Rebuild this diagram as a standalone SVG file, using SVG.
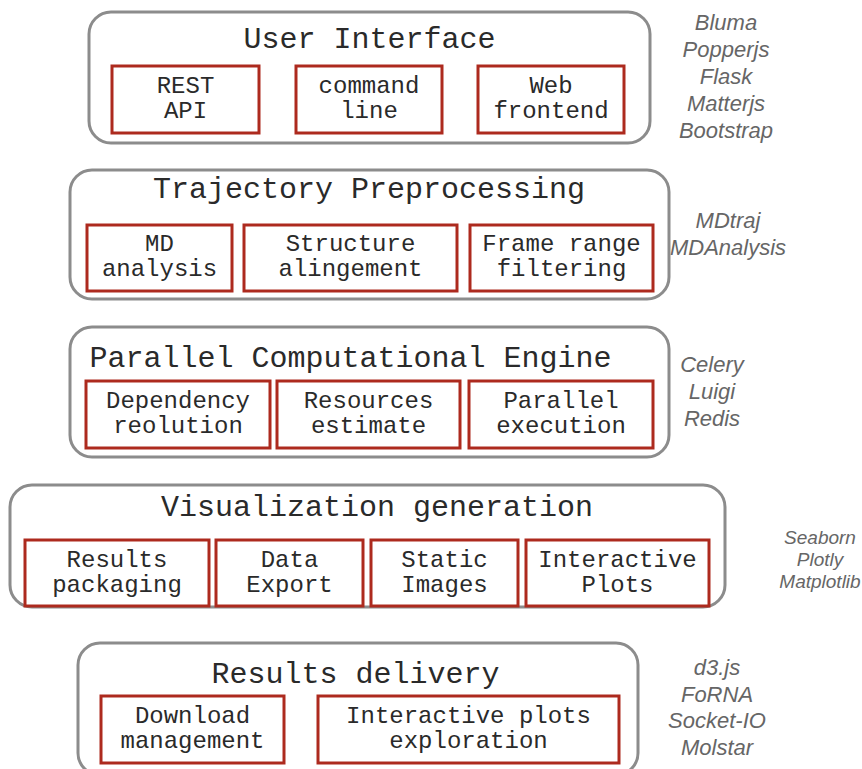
<svg xmlns="http://www.w3.org/2000/svg" width="862" height="769" viewBox="0 0 862 769">
  <style>
    .layer { fill: #ffffff; stroke: #8c8c8c; stroke-width: 3; }
    .comp { fill: #ffffff; stroke: #ad2a1e; stroke-width: 3; }
    .title { font-family: "Liberation Mono", "Courier New", monospace; font-size: 30px; fill: #2a2a2a; text-anchor: middle; }
    .label { font-family: "Liberation Mono", "Courier New", monospace; font-size: 24px; fill: #2a2a2a; text-anchor: middle; }
    .tech { font-family: "Liberation Sans", Arial, sans-serif; font-style: italic; font-size: 22px; fill: #666666; text-anchor: middle; }
    .tech-sm { font-size: 19px; }
  </style>
  <rect width="862" height="769" fill="#ffffff"/>

  <!-- Layer 1: User Interface -->
  <g id="user-interface">
    <rect class="layer" x="89" y="12" width="561" height="131" rx="22"/>
    <text class="title" x="369.5" y="48">User Interface</text>
    <g id="rest-api">
      <rect class="comp" x="112" y="66" width="147" height="67"/>
      <text class="label" x="185.5" y="93">REST</text>
      <text class="label" x="185.5" y="118">API</text>
    </g>
    <g id="command-line">
      <rect class="comp" x="296" y="66" width="146" height="67"/>
      <text class="label" x="369" y="93">command</text>
      <text class="label" x="369" y="118">line</text>
    </g>
    <g id="web-frontend">
      <rect class="comp" x="478" y="66" width="146" height="67"/>
      <text class="label" x="551" y="93">Web</text>
      <text class="label" x="551" y="118">frontend</text>
    </g>
  </g>
  <g id="ui-tech">
    <text class="tech" x="726" y="30">Bluma</text>
    <text class="tech" x="726" y="57">Popperjs</text>
    <text class="tech" x="726" y="84">Flask</text>
    <text class="tech" x="726" y="111">Matterjs</text>
    <text class="tech" x="726" y="138">Bootstrap</text>
  </g>

  <!-- Layer 2: Trajectory Preprocessing -->
  <g id="trajectory-preprocessing">
    <rect class="layer" x="70" y="170" width="599" height="129" rx="22"/>
    <text class="title" x="369" y="198">Trajectory Preprocessing</text>
    <g id="md-analysis">
      <rect class="comp" x="87" y="225" width="145" height="66"/>
      <text class="label" x="159.5" y="251">MD</text>
      <text class="label" x="159.5" y="276">analysis</text>
    </g>
    <g id="structure-alignment">
      <rect class="comp" x="244" y="225" width="213" height="66"/>
      <text class="label" x="350.5" y="251">Structure</text>
      <text class="label" x="350.5" y="276">alingement</text>
    </g>
    <g id="frame-filtering">
      <rect class="comp" x="470" y="225" width="183" height="66"/>
      <text class="label" x="561.5" y="251">Frame range</text>
      <text class="label" x="561.5" y="276">filtering</text>
    </g>
  </g>
  <g id="traj-tech">
    <text class="tech" x="728" y="228">MDtraj</text>
    <text class="tech" x="728" y="255">MDAnalysis</text>
  </g>

  <!-- Layer 3: Parallel Computational Engine -->
  <g id="computational-engine">
    <rect class="layer" x="70" y="327" width="599" height="130" rx="22"/>
    <text class="title" x="350.5" y="367">Parallel Computational Engine</text>
    <g id="dependency-resolution">
      <rect class="comp" x="86" y="381" width="184" height="67"/>
      <text class="label" x="178" y="408">Dependency</text>
      <text class="label" x="178" y="433">reolution</text>
    </g>
    <g id="resources-estimate">
      <rect class="comp" x="277" y="381" width="183" height="67"/>
      <text class="label" x="368.5" y="408">Resources</text>
      <text class="label" x="368.5" y="433">estimate</text>
    </g>
    <g id="parallel-execution">
      <rect class="comp" x="469" y="381" width="184" height="67"/>
      <text class="label" x="561" y="408">Parallel</text>
      <text class="label" x="561" y="433">execution</text>
    </g>
  </g>
  <g id="engine-tech">
    <text class="tech" x="712" y="372">Celery</text>
    <text class="tech" x="712" y="399">Luigi</text>
    <text class="tech" x="712" y="426">Redis</text>
  </g>

  <!-- Layer 4: Visualization generation -->
  <g id="visualization-generation">
    <rect class="layer" x="10" y="485" width="715" height="122" rx="22"/>
    <text class="title" x="377" y="516">Visualization generation</text>
    <g id="results-packaging">
      <rect class="comp" x="25" y="540" width="184" height="66"/>
      <text class="label" x="117" y="567">Results</text>
      <text class="label" x="117" y="592">packaging</text>
    </g>
    <g id="data-export">
      <rect class="comp" x="216" y="540" width="147" height="66"/>
      <text class="label" x="289.5" y="567">Data</text>
      <text class="label" x="289.5" y="592">Export</text>
    </g>
    <g id="static-images">
      <rect class="comp" x="371" y="540" width="147" height="66"/>
      <text class="label" x="444.5" y="567">Static</text>
      <text class="label" x="444.5" y="592">Images</text>
    </g>
    <g id="interactive-plots">
      <rect class="comp" x="526" y="540" width="183" height="66"/>
      <text class="label" x="617.5" y="567">Interactive</text>
      <text class="label" x="617.5" y="592">Plots</text>
    </g>
  </g>
  <g id="viz-tech">
    <text class="tech tech-sm" x="820" y="544">Seaborn</text>
    <text class="tech tech-sm" x="820" y="566">Plotly</text>
    <text class="tech tech-sm" x="820" y="588">Matplotlib</text>
  </g>

  <!-- Layer 5: Results delivery -->
  <g id="results-delivery">
    <rect class="layer" x="78" y="643" width="560" height="132" rx="22"/>
    <text class="title" x="355.5" y="683">Results delivery</text>
    <g id="download-management">
      <rect class="comp" x="101" y="696" width="183" height="67"/>
      <text class="label" x="192.5" y="723">Download</text>
      <text class="label" x="192.5" y="748">management</text>
    </g>
    <g id="plots-exploration">
      <rect class="comp" x="318" y="696" width="301" height="67"/>
      <text class="label" x="468.5" y="723">Interactive plots</text>
      <text class="label" x="468.5" y="748">exploration</text>
    </g>
  </g>
  <g id="delivery-tech">
    <text class="tech" x="717" y="675">d3.js</text>
    <text class="tech" x="717" y="702">FoRNA</text>
    <text class="tech" x="717" y="728">Socket-IO</text>
    <text class="tech" x="717" y="755">Molstar</text>
  </g>

  <!-- the layers stand apart: no links between them -->
  <g id="connectors"/>
</svg>
